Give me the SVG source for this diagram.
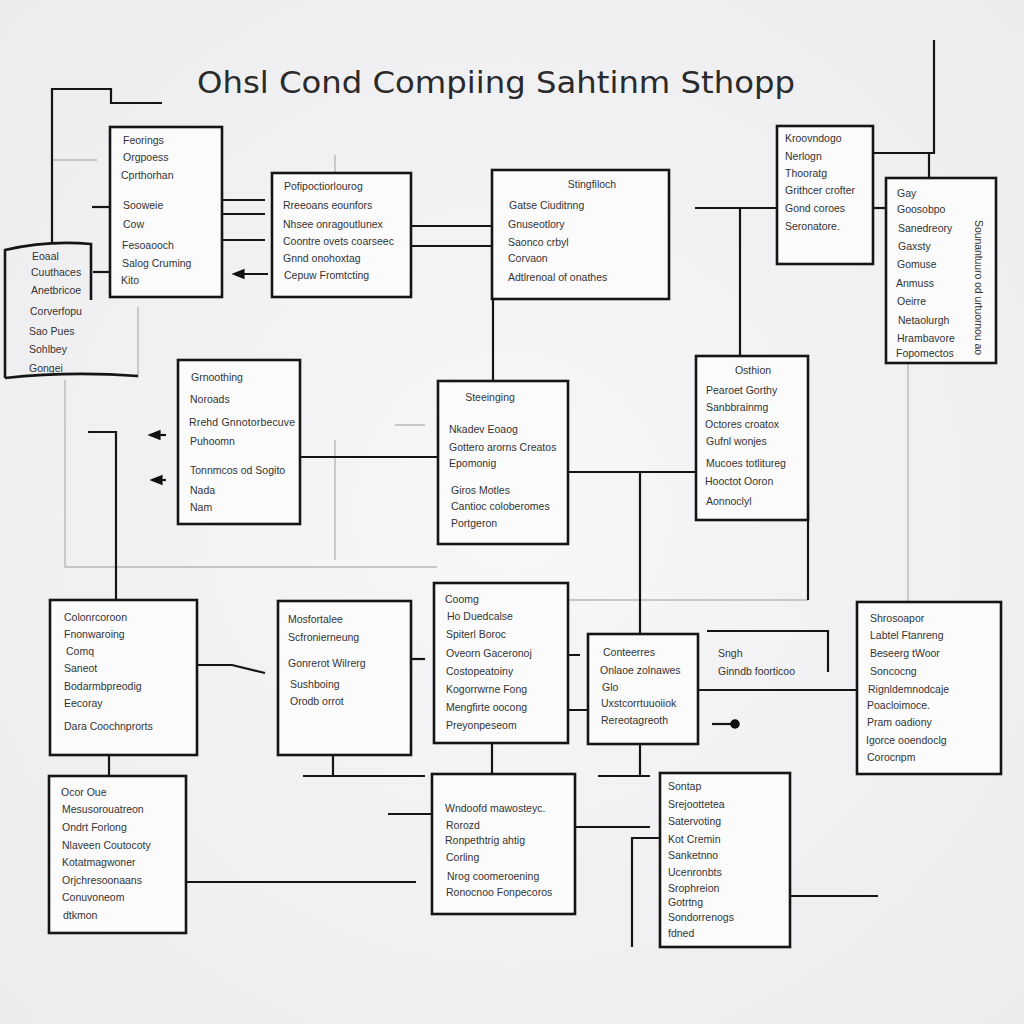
<svg xmlns="http://www.w3.org/2000/svg" width="1024" height="1024" viewBox="0 0 1024 1024">
<defs>
<radialGradient id="bg" cx="50%" cy="50%" r="70%">
<stop offset="0" stop-color="#f7f7f9"/>
<stop offset="1" stop-color="#ececef"/>
</radialGradient>
<marker id="dot" viewBox="0 0 6 6" refX="3" refY="3" markerWidth="5" markerHeight="5"><circle cx="3" cy="3" r="2.6" fill="#111"/></marker>
<marker id="arr" viewBox="0 0 10 10" refX="8" refY="5" markerWidth="6" markerHeight="6" orient="auto"><path d="M0,1 L10,5 L0,9 z" fill="#111"/></marker>
</defs>
<style>
.box{fill:#fbfbfc;stroke:#151515;stroke-width:2.6}
.t{font-family:"Liberation Sans",Arial,sans-serif;font-size:10.5px;fill:#333}
.c{text-anchor:middle}
.ln{fill:none;stroke:#151515;stroke-width:2.2}
.lg{fill:none;stroke:#b8b8bc;stroke-width:1.4}
.title{font-family:"DejaVu Sans",sans-serif;font-size:30px;fill:#2a2a2a}
</style>
<rect width="1024" height="1024" fill="url(#bg)"/>
<text class="title" x="197" y="93" textLength="598" lengthAdjust="spacingAndGlyphs">Ohsl Cond Compiing Sahtinm Sthopp</text>

<g id="connectors">
<path class="lg" d="M53,160 H97 M65,380 V567 H437 M335,155 V172 M335,440 V560 M395,425 H425 M568,600 H808 M908,363 V602 M138,307 V378"/>
<path class="ln" d="M52,243 V89 H111 V103 H162"/>
<path class="ln" d="M110,207 H92"/>
<path class="ln" d="M93,272 H110"/>
<path class="ln" d="M222,200 H265 M222,214 H265 M222,240 H265"/>
<path class="ln" d="M268,274 H234" marker-end="url(#arr)"/>
<path class="ln" d="M411,226 H492 M411,246 H492"/>
<path class="ln" d="M493,299 V381"/>
<path class="ln" d="M695,208 H777 M740,208 V356"/>
<path class="ln" d="M873,208 H886"/>
<path class="ln" d="M934,40 V153 H873 M929,153 V178"/>
<path class="ln" d="M300,457 H438"/>
<path class="ln" d="M166,435 H150" marker-end="url(#arr)"/>
<path class="ln" d="M166,480 H152" marker-end="url(#arr)"/>
<path class="ln" d="M88,432 H116 V600"/>
<path class="ln" d="M568,472 H696 M640,472 V634"/>
<path class="ln" d="M808,505 V600"/>
<path class="ln" d="M197,665 H232 L265,673"/>
<path class="ln" d="M395,659 H425"/>
<path class="ln" d="M568,710 H588 M568,655 H580"/>
<path class="ln" d="M707,631 H828 V672"/>
<path class="ln" d="M698,690 H856"/>
<path class="ln" d="M712,724 H735" marker-end="url(#dot)"/>
<path class="ln" d="M109,755 V776"/>
<path class="ln" d="M333,755 V776 M303,776 H425"/>
<path class="ln" d="M492,743 V774"/>
<path class="ln" d="M640,744 V776 M598,776 H650"/>
<path class="ln" d="M186,882 H416"/>
<path class="ln" d="M388,814 H432"/>
<path class="ln" d="M575,827 H650"/>
<path class="ln" d="M660,838 H632 V947"/>
<path class="ln" d="M790,896 H878"/>
</g>

<g id="nodeA"><rect class="box" x="110" y="127" width="112" height="170"/>
<text class="t" x="123" y="144">Feorings</text><text class="t" x="123" y="161">Orgpoess</text><text class="t" x="121" y="179">Cprthorhan</text><text class="t" x="123" y="209">Sooweie</text><text class="t" x="123" y="228">Cow</text><text class="t" x="122" y="249">Fesoaooch</text><text class="t" x="122" y="267">Salog Cruming</text><text class="t" x="121" y="284">Kito</text></g>

<g id="nodeB"><path class="ln" style="stroke-width:2.6" d="M5,378 V250 Q48,240 91,244 V300 M5,378 Q70,371 138,376"/>
<text class="t" x="32" y="260">Eoaal</text><text class="t" x="31" y="276">Cuuthaces</text><text class="t" x="31" y="294">Anetbricoe</text><text class="t" x="30" y="315">Corverfopu</text><text class="t" x="29" y="335">Sao Pues</text><text class="t" x="29" y="353">Sohlbey</text><text class="t" x="29" y="372">Gongei</text></g>

<g id="nodeC"><rect class="box" x="272" y="173" width="139" height="124"/>
<text class="t" x="284" y="190">Pofipoctiorlourog</text><text class="t" x="283" y="209">Rreeoans eounfors</text><text class="t" x="283" y="228">Nhsee onragoutlunex</text><text class="t" x="283" y="245">Coontre ovets coarseec</text><text class="t" x="283" y="262">Gnnd onohoxtag</text><text class="t" x="284" y="279">Cepuw Fromtcting</text></g>

<g id="nodeD"><rect class="box" x="492" y="170" width="177" height="129"/>
<text class="t c" x="592" y="188">Stingfiloch</text><text class="t" x="509" y="209">Gatse Ciuditnng</text><text class="t" x="508" y="228">Gnuseotlory</text><text class="t" x="508" y="246">Saonco crbyl</text><text class="t" x="508" y="262">Corvaon</text><text class="t" x="508" y="281">Adtlrenoal of onathes</text></g>

<g id="nodeE"><rect class="box" x="777" y="126" width="96" height="138"/>
<text class="t" x="785" y="142">Kroovndogo</text><text class="t" x="785" y="160">Nerlogn</text><text class="t" x="785" y="177">Thooratg</text><text class="t" x="785" y="194">Grithcer crofter</text><text class="t" x="785" y="212">Gond coroes</text><text class="t" x="785" y="230">Seronatore.</text></g>

<g id="nodeF"><rect class="box" x="886" y="178" width="110" height="185"/>
<text class="t" x="897" y="197">Gay</text><text class="t" x="897" y="213">Goosobpo</text><text class="t" x="898" y="232">Sanedreory</text><text class="t" x="898" y="250">Gaxsty</text><text class="t" x="897" y="268">Gomuse</text><text class="t" x="896" y="287">Anmuss</text><text class="t" x="897" y="305">Oeirre</text><text class="t" x="898" y="324">Netaolurgh</text><text class="t" x="897" y="342">Hrambavore</text><text class="t" x="896" y="357">Fopomectos</text>
<text class="t" transform="translate(975,220) rotate(90)" textLength="135">Sounantuuro od urtuornou ao</text></g>

<g id="nodeG"><rect class="box" x="178" y="360" width="122" height="164"/>
<text class="t" x="191" y="381">Grnoothing</text><text class="t" x="190" y="403">Noroads</text><text class="t" x="189" y="426" textLength="106">Rrehd Gnnotorbecuve</text><text class="t" x="190" y="445">Puhoomn</text><text class="t" x="190" y="474">Tonnmcos od Sogito</text><text class="t" x="190" y="494">Nada</text><text class="t" x="190" y="511">Nam</text></g>

<g id="nodeH"><rect class="box" x="438" y="381" width="130" height="163"/>
<text class="t c" x="490" y="401">Steeinging</text><text class="t" x="449" y="433">Nkadev Eoaog</text><text class="t" x="449" y="451">Gottero arorns Creatos</text><text class="t" x="449" y="467">Epomonig</text><text class="t" x="451" y="494">Giros Motles</text><text class="t" x="451" y="510">Cantioc coloberomes</text><text class="t" x="451" y="527">Portgeron</text></g>

<g id="nodeI"><rect class="box" x="696" y="356" width="112" height="164"/>
<text class="t c" x="753" y="374">Osthion</text><text class="t" x="706" y="394">Pearoet Gorthy</text><text class="t" x="706" y="411">Sanbbrainmg</text><text class="t" x="705" y="428">Octores croatox</text><text class="t" x="706" y="445">Gufnl wonjes</text><text class="t" x="706" y="467">Mucoes totlitureg</text><text class="t" x="705" y="485">Hooctot Ooron</text><text class="t" x="706" y="505">Aonnoclyl</text></g>

<g id="nodeJ"><rect class="box" x="50" y="600" width="147" height="155"/>
<text class="t" x="64" y="621">Colonrcoroon</text><text class="t" x="64" y="638">Fnonwaroing</text><text class="t" x="66" y="655">Comq</text><text class="t" x="64" y="672">Saneot</text><text class="t" x="64" y="690">Bodarmbpreodig</text><text class="t" x="64" y="707">Eecoray</text><text class="t" x="64" y="730">Dara Coochnprorts</text></g>

<g id="nodeK"><rect class="box" x="278" y="601" width="133" height="154"/>
<text class="t" x="288" y="623">Mosfortalee</text><text class="t" x="288" y="641">Scfronierneung</text><text class="t" x="288" y="667">Gonrerot Wilrerg</text><text class="t" x="290" y="688">Sushboing</text><text class="t" x="290" y="705">Orodb orrot</text></g>

<g id="nodeL"><rect class="box" x="434" y="583" width="134" height="160"/>
<text class="t" x="445" y="603">Coomg</text><text class="t" x="447" y="620">Ho Duedcalse</text><text class="t" x="446" y="638">Spiterl Boroc</text><text class="t" x="446" y="657">Oveorn Gaceronoj</text><text class="t" x="446" y="675">Costopeatoiny</text><text class="t" x="446" y="693">Kogorrwrne Fong</text><text class="t" x="446" y="711">Mengfirte oocong</text><text class="t" x="446" y="729">Preyonpeseom</text></g>

<g id="nodeM"><rect class="box" x="588" y="634" width="110" height="110"/>
<text class="t" x="603" y="656">Conteerres</text><text class="t" x="600" y="674">Onlaoe zolnawes</text><text class="t" x="602" y="691">Glo</text><text class="t" x="601" y="707">Uxstcorrtuuoiiok</text><text class="t" x="601" y="724">Rereotagreoth</text></g>

<g id="nodeS"><text class="t" x="718" y="657">Sngh</text><text class="t" x="718" y="675">Ginndb foorticoo</text></g>

<g id="nodeN"><rect class="box" x="857" y="602" width="144" height="172"/>
<text class="t" x="870" y="622">Shrosoapor</text><text class="t" x="870" y="639">Labtel Ftanreng</text><text class="t" x="870" y="657">Beseerg tWoor</text><text class="t" x="870" y="675">Soncocng</text><text class="t" x="868" y="693">Rignldemnodcaje</text><text class="t" x="867" y="709">Poacloimoce.</text><text class="t" x="867" y="726">Pram oadiony</text><text class="t" x="866" y="744">Igorce ooendoclg</text><text class="t" x="867" y="761">Corocnpm</text></g>

<g id="nodeO"><rect class="box" x="49" y="776" width="137" height="157"/>
<text class="t" x="61" y="796">Ocor Oue</text><text class="t" x="62" y="813">Mesusorouatreon</text><text class="t" x="62" y="831">Ondrt Forlong</text><text class="t" x="62" y="849">Nlaveen Coutocoty</text><text class="t" x="62" y="866">Kotatmagwoner</text><text class="t" x="62" y="884">Orjchresoonaans</text><text class="t" x="62" y="901">Conuvoneom</text><text class="t" x="63" y="919">dtkmon</text></g>

<g id="nodeP"><rect class="box" x="432" y="774" width="143" height="140"/>
<text class="t" x="445" y="812">Wndoofd mawosteyc.</text><text class="t" x="446" y="829">Rorozd</text><text class="t" x="445" y="844">Ronpethtrig ahtig</text><text class="t" x="446" y="861">Corling</text><text class="t" x="447" y="880">Nrog coomeroening</text><text class="t" x="446" y="896">Ronocnoo Fonpecoros</text></g>

<g id="nodeQ"><rect class="box" x="660" y="773" width="130" height="174"/>
<text class="t" x="668" y="790">Sontap</text><text class="t" x="668" y="808">Srejoottetea</text><text class="t" x="668" y="825">Satervoting</text><text class="t" x="668" y="843">Kot Cremin</text><text class="t" x="668" y="859">Sanketnno</text><text class="t" x="668" y="876">Ucenronbts</text><text class="t" x="668" y="892">Srophreion</text><text class="t" x="668" y="906">Gotrtng</text><text class="t" x="668" y="921">Sondorrenogs</text><text class="t" x="668" y="937">fdned</text></g>
</svg>
